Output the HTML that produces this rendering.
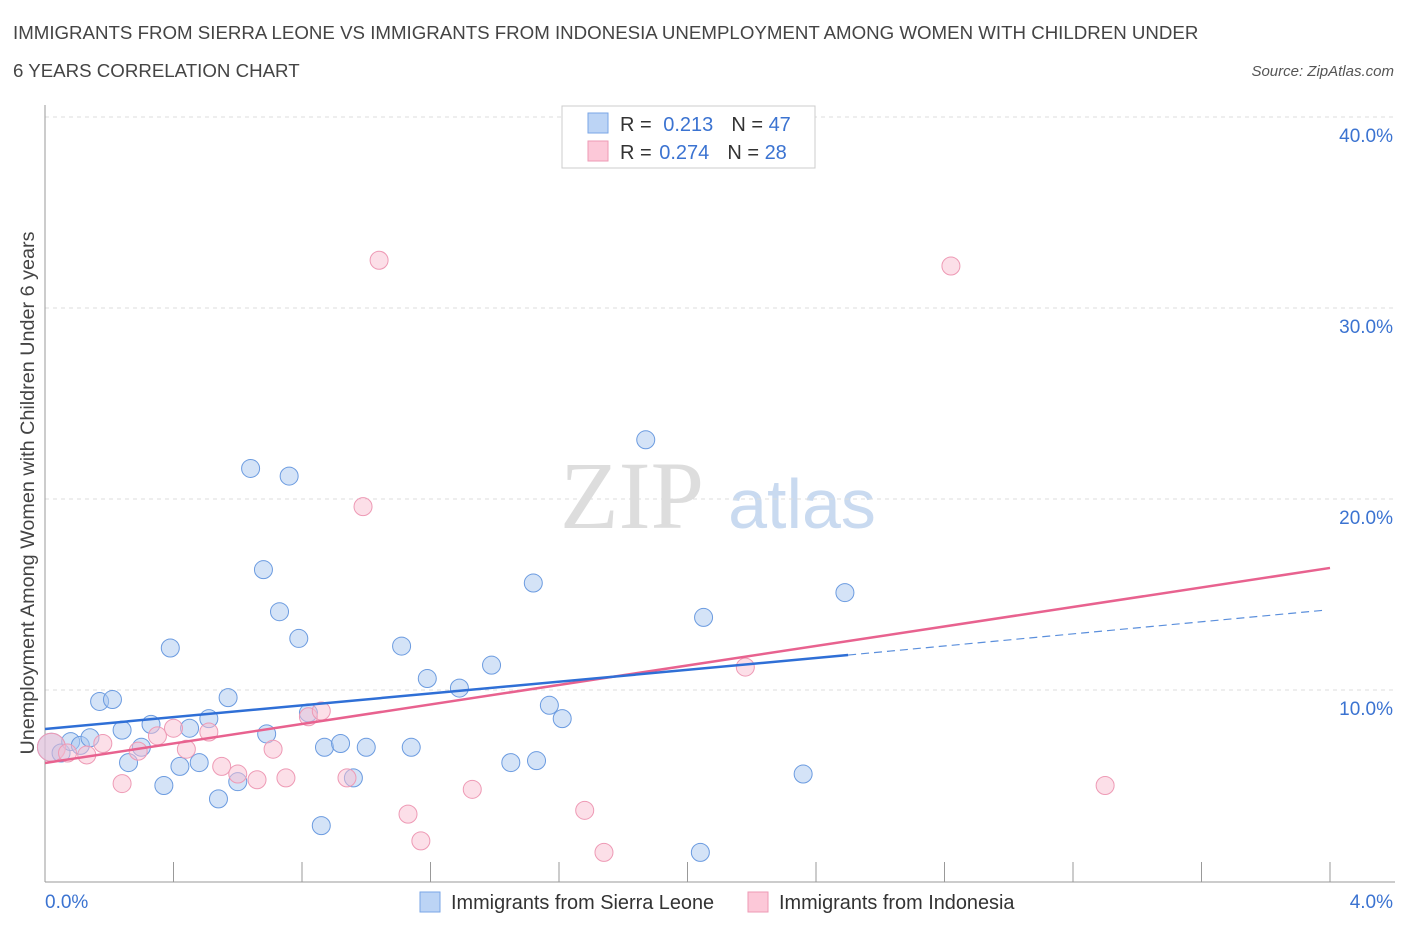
<!DOCTYPE html>
<html><head><meta charset="utf-8"><style>
body{margin:0;background:#fff;font-family:"Liberation Sans",sans-serif;}
svg{display:block}
</style></head><body>
<svg id="chart" width="1406" height="930">
<text x="13" y="39" font-size="18.7" fill="#444">IMMIGRANTS FROM SIERRA LEONE VS IMMIGRANTS FROM INDONESIA UNEMPLOYMENT AMONG WOMEN WITH CHILDREN UNDER</text>
<text x="13" y="77" font-size="18.7" fill="#444">6 YEARS CORRELATION CHART</text>
<text x="1394" y="76" font-size="15" fill="#555" font-style="italic" text-anchor="end">Source: ZipAtlas.com</text>
<text x="632" y="528" font-size="96" fill="#ddd" font-family="Liberation Serif,serif" text-anchor="middle">ZIP</text>
<text x="802" y="528" font-size="70" fill="#c9daf0" text-anchor="middle">atlas</text>
<g id="grid"></g>
<g id="axes"></g>
<g id="marks"></g>
<text transform="translate(34,493) rotate(-90)" font-size="19.8" fill="#444" text-anchor="middle">Unemployment Among Women with Children Under 6 years</text>
<text x="45" y="908" font-size="19" fill="#3b73d1">0.0%</text>
<text x="1393" y="908" font-size="19" fill="#3b73d1" text-anchor="end">4.0%</text>
<g>
<rect x="562" y="106" width="253" height="62" fill="#fff" stroke="#ccc"/>
<rect x="588" y="113" width="20" height="20" fill="#bcd4f5" stroke="#7aa6e6"/>
<rect x="588" y="141" width="20" height="20" fill="#fcc8d8" stroke="#ee9ab5"/>
<text x="620" y="131" font-size="20" fill="#333">R = <tspan fill="#3b73d1" dx="6">0.213</tspan><tspan dx="18" fill="#333">N = </tspan><tspan fill="#3b73d1">47</tspan></text>
<text x="620" y="159" font-size="20" fill="#333">R = <tspan fill="#3b73d1" dx="2">0.274</tspan><tspan dx="18" fill="#333">N = </tspan><tspan fill="#3b73d1">28</tspan></text>
</g>
<g>
<rect x="420" y="892" width="20" height="20" fill="#bcd4f5" stroke="#7aa6e6"/>
<text x="451" y="909" font-size="19.9" fill="#333">Immigrants from Sierra Leone</text>
<rect x="748" y="892" width="20" height="20" fill="#fcc8d8" stroke="#ee9ab5"/>
<text x="779" y="909" font-size="19.9" fill="#333">Immigrants from Indonesia</text>
</g>
</svg>
<script>
const yTicks=[10,20,30,40];
const xTicks=[0,0.4,0.8,1.2,1.6,2.0,2.4,2.8,3.2,3.6,4.0];
const blueX=[0.02,0.05,0.08,0.11,0.14,0.17,0.21,0.24,0.26,0.30,0.33,0.37,0.39,0.42,0.45,0.48,0.51,0.54,0.57,0.60,0.64,0.68,0.69,0.73,0.76,0.79,0.82,0.86,0.87,0.92,0.96,1.00,1.11,1.14,1.19,1.29,1.39,1.45,1.52,1.53,1.57,1.61,1.87,2.04,2.05,2.36,2.49];
const blueY=[7.0,6.7,7.3,7.1,7.5,9.4,9.5,7.9,6.2,7.0,8.2,5.0,12.2,6.0,8.0,6.2,8.5,4.3,9.6,5.2,21.6,16.3,7.7,14.1,21.2,12.7,8.8,2.9,7.0,7.2,5.4,7.0,12.3,7.0,10.6,10.1,11.3,6.2,15.6,6.3,9.2,8.5,23.1,1.5,13.8,5.6,15.1];
const pinkX=[0.02,0.07,0.13,0.18,0.24,0.29,0.35,0.40,0.44,0.51,0.55,0.60,0.66,0.71,0.75,0.82,0.86,0.94,0.99,1.04,1.13,1.17,1.33,1.68,1.74,2.18,2.82,3.30];
const pinkY=[7.0,6.7,6.6,7.2,5.1,6.8,7.6,8.0,6.9,7.8,6.0,5.6,5.3,6.9,5.4,8.6,8.9,5.4,19.6,32.5,3.5,2.1,4.8,3.7,1.5,11.2,32.2,5.0];
const blueLine=[[0,7.96],[2.5,11.83]];
const blueDash=[[2.5,11.83],[3.99,14.19]];
const pinkLine=[[0,6.18],[4.0,16.39]];
const NS='http://www.w3.org/2000/svg';
const X=v=>45+v/4*1285;
const Y=v=>881-v*19.1;
function mk(t,a,p){const e=document.createElementNS(NS,t);for(const k in a)e.setAttribute(k,a[k]);p.appendChild(e);return e;}
const grid=document.getElementById('grid'),axes=document.getElementById('axes'),marks=document.getElementById('marks');
yTicks.forEach(t=>{
 const l=mk('line',{x1:45,x2:1395,y1:Y(t),y2:Y(t),stroke:'#ddd','stroke-dasharray':'4,4'},grid);
 
 
 const tx=mk('text',{x:1393,y:Y(t)+25,'font-size':19,fill:'#3b73d1','text-anchor':'end'},grid);
 tx.textContent=t.toFixed(1)+'%';
 
 
});
const topl=mk('line',{x1:45,x2:1395,y1:117,y2:117,stroke:'#ddd','stroke-dasharray':'4,4'},grid);


const ya=mk('line',{x1:45,x2:45,y1:105,y2:882,stroke:'#999'},axes);


const xa=mk('line',{x1:45,x2:1395,y1:882,y2:882,stroke:'#999'},axes);


xTicks.forEach(t=>{
 const l=mk('line',{x1:X(t),x2:X(t),y1:862,y2:882,stroke:'#999'},axes);
 
 
});
function pts(xs,ys,fill,stroke,name){
 xs.forEach((x,i)=>{
  const r=i===0?14:9;
  const c=mk('circle',{cx:X(x),cy:Y(ys[i]),r:r,fill:fill,'fill-opacity':0.5,stroke:stroke,'stroke-width':1},marks);
  
  
 });
}
pts(blueX,blueY,'#a9c7f0','#6b9be0','point-sierra-leone');
pts(pinkX,pinkY,'#f9bfd1','#ee9ab5','point-indonesia');
function ln(p,c,w,d,name){
 const l=mk('line',{x1:X(p[0][0]),y1:Y(p[0][1]),x2:X(p[1][0]),y2:Y(p[1][1]),stroke:c,'stroke-width':w},marks);
 if(d)l.setAttribute('stroke-dasharray',d);
 
 
}
ln(pinkLine,'#e8628f',2.5,null,'trend-indonesia');
ln(blueLine,'#2f6fd6',2.5,null,'trend-sierra-leone');
ln(blueDash,'#5b8fdc',1.2,'8,5','trend-sierra-leone-extrapolated');
</script>
</body></html>
